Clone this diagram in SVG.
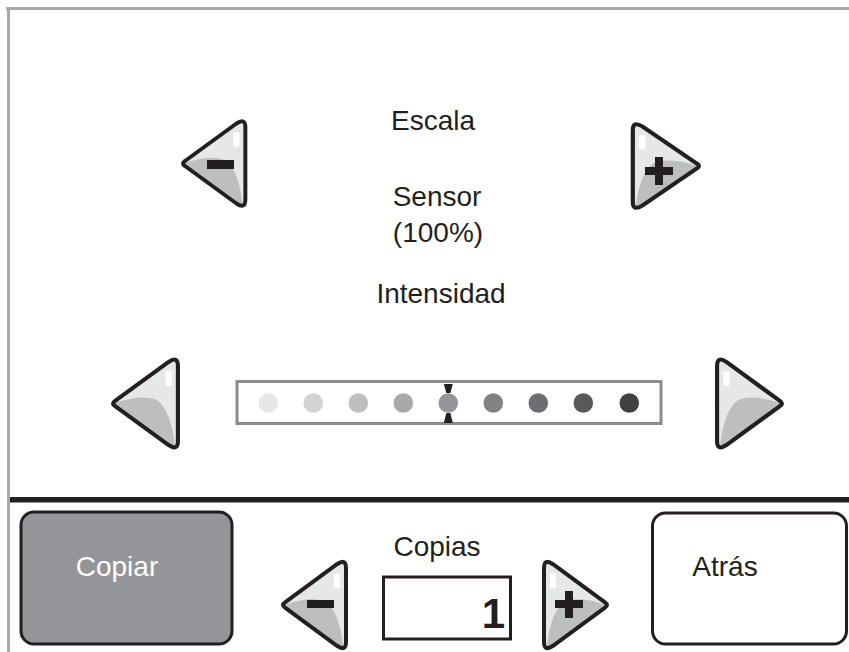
<svg xmlns="http://www.w3.org/2000/svg" width="849" height="652" viewBox="0 0 849 652">
<style>
.lbl{font-family:"Liberation Sans",Arial,sans-serif;font-size:28px;fill:#231f20;text-anchor:middle}
.tri{fill:#e6e7e8;stroke:#231f20;stroke-width:4;stroke-linejoin:round}
.shade{fill:#bcbec0}
.hl{fill:#ffffff}
.sign{fill:#231f20}
.btn{stroke:#231f20;stroke-width:3}
</style>
<defs>
<path id="triPath" d="M3,-2.5 L55,-40 Q64,-46 64,-36 L64,36 Q64,46 55,40 L3,2.5 Q-1,0 3,-2.5 Z"/>
<clipPath id="triClip"><use href="#triPath"/></clipPath>
<g id="arrowBtn">
<use href="#triPath" class="tri" style="stroke:none"/>
<path class="shade" clip-path="url(#triClip)" d="M-5,3 C10,-4 32,-9 44,-3 C54,4 60,22 62,50 L-5,50 Z"/>
<rect class="hl" x="52" y="-31" width="6" height="14" rx="1"/>
<use href="#triPath" class="tri" style="fill:none"/>
</g>
</defs>
<rect x="0" y="0" width="849" height="652" fill="#ffffff"/>
<g id="frame">
<rect x="6" y="7" width="843" height="3" fill="#a7a9ac"/>
<rect x="7" y="7" width="3" height="645" fill="#a7a9ac"/>
<rect x="10" y="497" width="839" height="5.5" fill="#231f20"/>
</g>
<g id="escala-label"><text class="lbl" x="433" y="130">Escala</text></g>
<g id="escala-minus">
<use href="#arrowBtn" transform="translate(182,163.5) scale(0.99,1.0)"/>
<rect class="sign" x="207" y="160" width="27" height="9"/>
</g>
<g id="escala-plus">
<use href="#arrowBtn" transform="translate(700,166) scale(-1.05,0.99)"/>
<rect class="sign" x="645" y="167" width="28" height="8"/>
<rect class="sign" x="655" y="157" width="8" height="28"/>
</g>
<g id="sensor-label">
<text class="lbl" x="437" y="206">Sensor</text>
<text class="lbl" x="438" y="242">(100%)</text>
</g>
<g id="intensidad-label"><text class="lbl" x="441" y="303">Intensidad</text></g>
<g id="int-left"><use href="#arrowBtn" transform="translate(112,403.5) scale(1.03,1.04)"/></g>
<g id="int-right"><use href="#arrowBtn" transform="translate(783,403.5) scale(-1.03,1.04)"/></g>
<g id="slider">
<rect x="237" y="381.5" width="424" height="42" fill="#ffffff" stroke="#8a8c8e" stroke-width="3"/>
<circle cx="268.3" cy="403" r="9.8" fill="#e6e7e8"/>
<circle cx="313.3" cy="403" r="9.8" fill="#d1d3d4"/>
<circle cx="358.3" cy="403" r="9.8" fill="#bcbec0"/>
<circle cx="403.3" cy="403" r="9.8" fill="#a7a9ac"/>
<circle cx="448.3" cy="403" r="9.8" fill="#939598"/>
<circle cx="493.3" cy="403" r="9.8" fill="#808285"/>
<circle cx="538.3" cy="403" r="9.8" fill="#6d6e71"/>
<circle cx="583.3" cy="403" r="9.8" fill="#58595b"/>
<circle cx="629.3" cy="403" r="9.8" fill="#414042"/>
<path d="M443.8,384 L452.8,384 L450.3,393 L446.3,393 Z" fill="#231f20"/>
<path d="M446.3,413 L450.3,413 L452.8,423 L443.8,423 Z" fill="#231f20"/>
</g>
<g id="copiar">
<rect class="btn" x="21" y="512" width="211" height="132" rx="13" fill="#939598"/>
<text class="lbl" x="117" y="576" style="fill:#ffffff">Copiar</text>
</g>
<g id="copias-label"><text class="lbl" x="437" y="556">Copias</text></g>
<g id="copias-minus">
<use href="#arrowBtn" transform="translate(282,605) scale(1,1.02)"/>
<rect class="sign" x="307" y="600" width="27" height="8"/>
</g>
<g id="copias-count">
<rect x="383.5" y="577" width="127" height="62" fill="#ffffff" stroke="#231f20" stroke-width="3"/>
<text x="505" y="628" style="font-family:'Liberation Sans',Arial,sans-serif;font-size:42px;font-weight:bold;fill:#231f20;text-anchor:end">1</text>
</g>
<g id="copias-plus">
<use href="#arrowBtn" transform="translate(608,605) scale(-1,1.02)"/>
<rect class="sign" x="555" y="600" width="28" height="8"/>
<rect class="sign" x="565" y="591" width="8" height="27"/>
</g>
<g id="atras">
<rect class="btn" x="652.5" y="513" width="194" height="131" rx="13" fill="#ffffff"/>
<text class="lbl" x="725" y="576">Atrás</text>
</g>
</svg>
